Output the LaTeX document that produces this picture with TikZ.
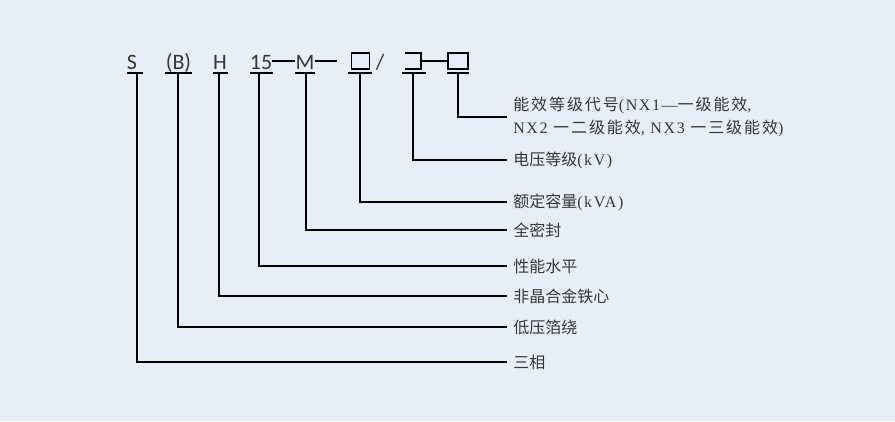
\documentclass[tikz,border=0pt]{standalone}
\usepackage{fontspec}
\setmainfont{Carlito}
\newfontfamily\cjk{Noto Sans CJK SC}
\newfontfamily\cjkw[LetterSpace=12]{Noto Sans CJK SC}
\newfontfamily\latfont[LetterSpace=10]{Liberation Serif}
\newcommand\lat[1]{{\latfont #1}}
\definecolor{bgblue}{RGB}{232,238,248}
\definecolor{txtgray}{RGB}{55,55,55}
\tikzset{
  code/.style={anchor=base,inner sep=0pt,text=txtgray,font=\fontsize{16.5}{18}\selectfont},
  box/.style={draw,line width=1pt,minimum width=13.5pt,minimum height=12pt,inner sep=0pt},
  lbl/.style={anchor=west,inner xsep=4.5pt,inner ysep=0pt,align=left,text=txtgray,font=\cjk\fontsize{12}{17}\selectfont},
  wire/.style={line width=0.8pt}
}
\begin{document}
\begin{tikzpicture}[x=0.75pt,y=-0.75pt]
\fill[bgblue] (0,0) rectangle (895,421);
\useasboundingbox (0,0) rectangle (895,421);
\node[code] (s) at (132,69) {S};
\node[code] (b) at (178.5,69) {(B)};
\node[code] (h) at (220,69) {H};
\node[code] (n15) at (261,69) {15};
\node[code] (m) at (305,69) {M};
\node[box] (q1) at (360.5,61) {};
\node[code] (sl) at (380,69) {/};
\coordinate (cv) at (413,61);
\draw[line width=1pt] (405,53) -| (421,69) -- (405,69);
\coordinate (cvr) at (421,61);
\node[box,minimum width=15pt] (q3) at (458,61) {};
\draw[wire] (n15.east |- q1.west) -- (m.west |- q1.west);
\coordinate (mend) at (337,61);
\draw[wire] (m.east |- q1.west) -- (mend);
\draw[wire] (cvr) -- (q3.west);
\foreach \a/\b in {127/143,165/192,213/228,250/273,295/315,348/372,402/426,447/469}
  \draw[line width=1.1pt] (\a,73) -- (\b,73);
\node[lbl,font=\cjkw\fontsize{12}{17}\selectfont] (nx) at (507,117) {能效等级代号\lat{(NX1—}一级能效\lat{,}\\\lat{NX2 }一二级能效\lat{, NX3 }一三级能效\lat{)}};
\coordinate (nxfoot) at (458,73);
\draw[wire] (nxfoot) |- (nx.west);
\foreach \x/\y/\n/\t in {413/160/kv/{电压等级\lat{(kV)}},360/202/kva/{额定容量\lat{(kVA)}},306/230/mi/全密封,259/266/xn/性能水平,219/296/fe/非晶合金铁心,178/327/bo/低压箔绕,137/362/sx/三相}{
  \node[lbl] (\n) at (507,\y) {\t};
  \coordinate (\n foot) at (\x,73);
  \draw[wire] (\n foot) |- (\n.west);
}
\end{tikzpicture}
\end{document}
